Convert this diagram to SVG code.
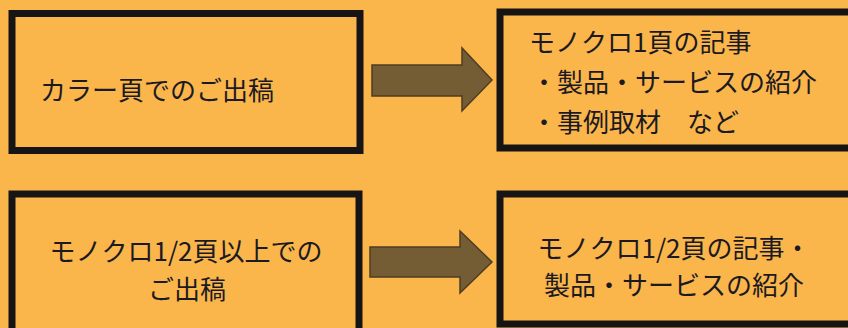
<svg xmlns="http://www.w3.org/2000/svg" width="848" height="328" viewBox="0 0 848 328">
  <style>
    .box { fill: #FAB54B; stroke: #161414; stroke-width: 7; }
    .arrow { fill: #745C34; stroke: #4E3D22; stroke-width: 1.5; stroke-linejoin: miter; }
    .t { font-family: "Noto Sans CJK JP", "Noto Sans", sans-serif; font-size: 26px; font-weight: 400; fill: #1B1A22; }
    .c { text-anchor: middle; }
  </style>
  <rect x="0" y="0" width="848" height="328" fill="#FAB54B"/>
  <g id="node-color">
    <rect class="box" x="12" y="13.5" width="348" height="137"/>
    <text class="t" x="40" y="100">カラー頁でのご出稿</text>
  </g>
  <g id="node-mono1">
    <rect class="box" x="500" y="12" width="400" height="136"/>
    <text class="t" x="529" y="52">モノクロ1頁の記事</text>
    <text class="t" x="531" y="92">・製品・サービスの紹介</text>
    <text class="t" x="531" y="132">・事例取材　など</text>
  </g>
  <g id="node-mono-half">
    <rect class="box" x="12" y="194" width="347" height="160"/>
    <text class="t c" x="186" y="261">モノクロ1/2頁以上での</text>
    <text class="t c" x="187" y="299">ご出稿</text>
  </g>
  <g id="node-mono-half-article">
    <rect class="box" x="500" y="194" width="400" height="130"/>
    <text class="t c" x="674" y="258">モノクロ1/2頁の記事・</text>
    <text class="t c" x="674" y="295">製品・サービスの紹介</text>
  </g>
  <g id="connectors">
    <polygon class="arrow" points="372,65 462,65 462,48 492,80 462,111 462,96 372,96"/>
    <polygon class="arrow" points="370,247 460,247 460,231 492,262 460,293 460,277 370,277"/>
  </g>
</svg>
